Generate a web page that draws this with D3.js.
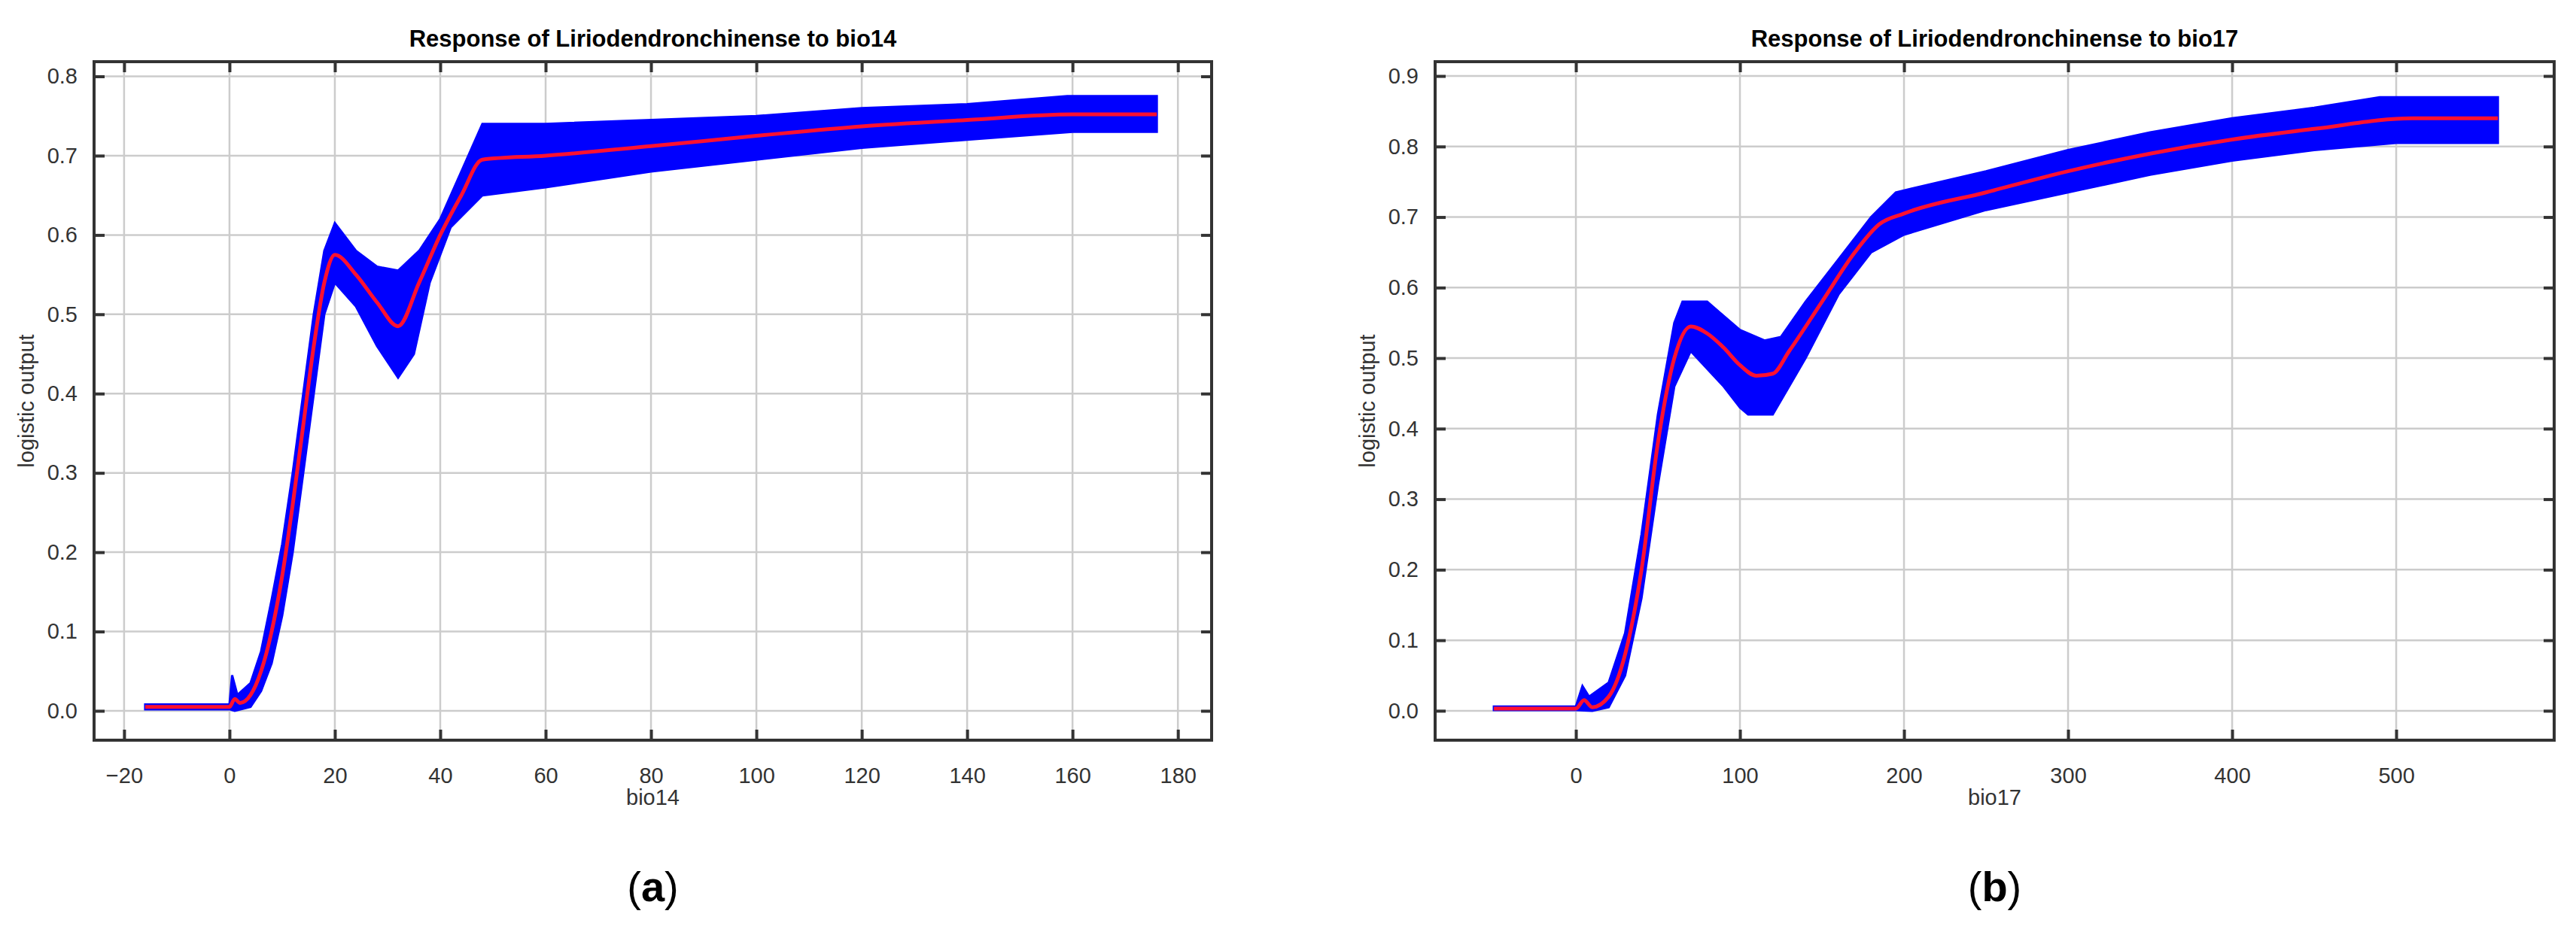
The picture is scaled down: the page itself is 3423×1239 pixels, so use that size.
<!DOCTYPE html>
<html>
<head>
<meta charset="utf-8">
<script src="https://cdn.jsdelivr.net/npm/d3@7"></script>
<style>
  body { margin: 0; background: #fff; }
  text { font-family: "Liberation Sans", Arial, sans-serif; }
</style>
</head>
<body>
<svg id="chart" width="3423" height="1239"></svg>
<script>
// bio14 response (panel a)
const bio14_x_mean = [-16, 0, 1, 2, 4, 6, 8, 10, 12, 14, 16, 18, 20, 24, 28, 32, 36, 40, 44, 48, 60, 80, 100, 120, 140, 160, 176];
const bio14_mean = [0.005, 0.005, 0.015, 0.01, 0.02, 0.05, 0.1, 0.17, 0.26, 0.36, 0.46, 0.54, 0.575, 0.55, 0.515, 0.485, 0.54, 0.6, 0.65, 0.695, 0.7, 0.712, 0.725, 0.737, 0.745, 0.752, 0.752];
const bio14_x_upper = [-16, 0, 0.5, 1.5, 4, 6, 8, 10, 12, 14, 16, 18, 20, 24, 28, 32, 36, 40, 44, 48, 60, 80, 100, 120, 140, 159, 176];
const bio14_upper = [0.008, 0.008, 0.045, 0.02, 0.035, 0.075, 0.14, 0.21, 0.3, 0.4, 0.5, 0.58, 0.615, 0.58, 0.56, 0.555, 0.58, 0.62, 0.68, 0.74, 0.74, 0.745, 0.75, 0.76, 0.765, 0.775, 0.775];
const bio14_x_lower = [-16, 0, 1, 4, 6, 8, 10, 12, 14, 16, 18, 20, 24, 28, 32, 35, 38, 42, 48, 60, 80, 100, 120, 140, 160, 176];
const bio14_lower = [0.002, 0.002, 0.0, 0.005, 0.025, 0.06, 0.12, 0.2, 0.3, 0.4, 0.5, 0.54, 0.51, 0.46, 0.42, 0.45, 0.54, 0.61, 0.65, 0.66, 0.68, 0.695, 0.71, 0.72, 0.73, 0.73];

// bio17 response (panel b)
const bio17_x_mean = [-50, 0, 5, 10, 20, 30, 40, 50, 60, 70, 80, 90, 100, 110, 120, 130, 150, 170, 185, 200, 250, 300, 350, 400, 450, 510, 562];
const bio17_mean = [0.003, 0.003, 0.015, 0.005, 0.02, 0.08, 0.2, 0.38, 0.5, 0.545, 0.535, 0.515, 0.49, 0.475, 0.478, 0.51, 0.58, 0.65, 0.69, 0.705, 0.735, 0.765, 0.79, 0.81, 0.825, 0.84, 0.84];
const bio17_x_upper = [-50, 0, 4, 8, 20, 30, 40, 50, 60, 65, 80, 100, 115, 125, 140, 160, 180, 195, 250, 300, 350, 400, 450, 490, 562];
const bio17_upper = [0.006, 0.006, 0.035, 0.02, 0.04, 0.11, 0.25, 0.42, 0.55, 0.58, 0.58, 0.54, 0.525, 0.53, 0.58, 0.64, 0.7, 0.735, 0.765, 0.795, 0.82, 0.84, 0.855, 0.87, 0.87];
const bio17_x_lower = [-50, 0, 10, 20, 30, 40, 50, 60, 70, 90, 100, 105, 120, 140, 160, 180, 200, 250, 300, 350, 400, 450, 500, 562];
const bio17_lower = [0.001, 0.001, 0.0, 0.005, 0.05, 0.16, 0.32, 0.46, 0.51, 0.46, 0.43, 0.42, 0.42, 0.5, 0.59, 0.65, 0.675, 0.71, 0.735, 0.76, 0.78, 0.795, 0.805, 0.805];

const bio14_xticks = [-20, 0, 20, 40, 60, 80, 100, 120, 140, 160, 180];
const bio14_yticks = [0, 0.1, 0.2, 0.3, 0.4, 0.5, 0.6, 0.7, 0.8];
const bio17_xticks = [0, 100, 200, 300, 400, 500];
const bio17_yticks = [0, 0.1, 0.2, 0.3, 0.4, 0.5, 0.6, 0.7, 0.8, 0.9];

const svg = d3.select("#chart");

function zip(xs, ys) { return xs.map((x, i) => [x, ys[i]]); }

function panel(cfg) {
  const x = d3.scaleLinear().domain(cfg.xdom).range([cfg.left, cfg.right]);
  const y = d3.scaleLinear().domain(cfg.ydom).range([cfg.bottom, cfg.top]);
  const g = svg.append("g");

  // grid
  g.selectAll(".gx").data(cfg.xticks).enter().append("line")
    .attr("x1", d => x(d)).attr("x2", d => x(d))
    .attr("y1", cfg.top).attr("y2", cfg.bottom)
    .attr("stroke", "#cccccc").attr("stroke-width", 2.5);
  g.selectAll(".gy").data(cfg.yticks).enter().append("line")
    .attr("x1", cfg.left).attr("x2", cfg.right)
    .attr("y1", d => y(d)).attr("y2", d => y(d))
    .attr("stroke", "#cccccc").attr("stroke-width", 2.5);

  // band
  const band = zip(cfg.xu, cfg.upper).concat(zip(cfg.xl, cfg.lower).reverse());
  g.append("path")
    .attr("d", d3.line().x(d => x(d[0])).y(d => y(d[1]))(band) + "Z")
    .attr("fill", "#0000ff").attr("stroke", "#0000ff").attr("stroke-width", 3);

  // mean
  g.append("path")
    .attr("d", d3.line().x(d => x(d[0])).y(d => y(d[1])).curve(d3.curveMonotoneX)(zip(cfg.xm, cfg.mean)))
    .attr("fill", "none").attr("stroke", "#ff1030").attr("stroke-width", 5);

  // frame
  g.append("rect")
    .attr("x", cfg.left).attr("y", cfg.top)
    .attr("width", cfg.right - cfg.left).attr("height", cfg.bottom - cfg.top)
    .attr("fill", "none").attr("stroke", "#333").attr("stroke-width", 4);

  // axes with inward ticks
  const tick = 14;
  const bx = g.append("g").attr("transform", `translate(0,${cfg.bottom})`)
    .call(d3.axisBottom(x).tickValues(cfg.xticks).tickSizeInner(-tick).tickSizeOuter(0).tickPadding(tick + 22).tickFormat(d3.format("d")));
  g.append("g").attr("transform", `translate(0,${cfg.top})`)
    .call(d3.axisTop(x).tickValues(cfg.xticks).tickSizeInner(-tick).tickSizeOuter(0).tickFormat(""));
  const ly = g.append("g").attr("transform", `translate(${cfg.left},0)`)
    .call(d3.axisLeft(y).tickValues(cfg.yticks).tickSizeInner(-tick).tickSizeOuter(0).tickPadding(tick + 8).tickFormat(d3.format(".1f")));
  g.append("g").attr("transform", `translate(${cfg.right},0)`)
    .call(d3.axisRight(y).tickValues(cfg.yticks).tickSizeInner(-tick).tickSizeOuter(0).tickFormat(""));
  g.selectAll(".domain").remove();
  g.selectAll(".tick line").attr("stroke", "#333").attr("stroke-width", 4);
  g.selectAll(".tick text").attr("font-size", 29).attr("fill", "#333")
    .attr("font-family", "'Liberation Sans Narrow', 'Liberation Sans', Arial, sans-serif");

  // titles and labels
  g.append("text").attr("x", (cfg.left + cfg.right) / 2).attr("y", 62)
    .attr("text-anchor", "middle").attr("font-size", 31).attr("font-weight", "bold")
    .text(cfg.title);
  g.append("text").attr("x", (cfg.left + cfg.right) / 2).attr("y", 1070)
    .attr("text-anchor", "middle").attr("font-size", 29).attr("fill", "#333")
    .attr("font-family", "'Liberation Sans Narrow', 'Liberation Sans', Arial, sans-serif")
    .text(cfg.xlabel);
  g.append("text")
    .attr("transform", `translate(${cfg.left - 80},${(cfg.top + cfg.bottom) / 2}) rotate(-90)`)
    .attr("text-anchor", "middle").attr("font-size", 29).attr("fill", "#333")
    .attr("font-family", "'Liberation Sans Narrow', 'Liberation Sans', Arial, sans-serif")
    .text("logistic output");
  g.append("text").attr("x", (cfg.left + cfg.right) / 2).attr("y", 1198)
    .attr("text-anchor", "middle").attr("font-size", 56)
    .attr("font-family", "'Liberation Serif', 'Times New Roman', serif")
    .html(`(<tspan font-weight="bold">${cfg.letter}</tspan>)`);
}

panel({
  left: 125, right: 1610, top: 82, bottom: 984,
  xdom: [-25.7, 186.4], ydom: [-0.037, 0.8185],
  xticks: bio14_xticks, yticks: bio14_yticks,
  xm: bio14_x_mean, mean: bio14_mean,
  xu: bio14_x_upper, upper: bio14_upper,
  xl: bio14_x_lower, lower: bio14_lower,
  title: "Response of Liriodendronchinense to bio14", xlabel: "bio14", letter: "a"
});

panel({
  left: 1907, right: 3394, top: 82, bottom: 984,
  xdom: [-85.8, 596.3], ydom: [-0.0417, 0.9203],
  xticks: bio17_xticks, yticks: bio17_yticks,
  xm: bio17_x_mean, mean: bio17_mean,
  xu: bio17_x_upper, upper: bio17_upper,
  xl: bio17_x_lower, lower: bio17_lower,
  title: "Response of Liriodendronchinense to bio17", xlabel: "bio17", letter: "b"
});
</script>
</body>
</html>
